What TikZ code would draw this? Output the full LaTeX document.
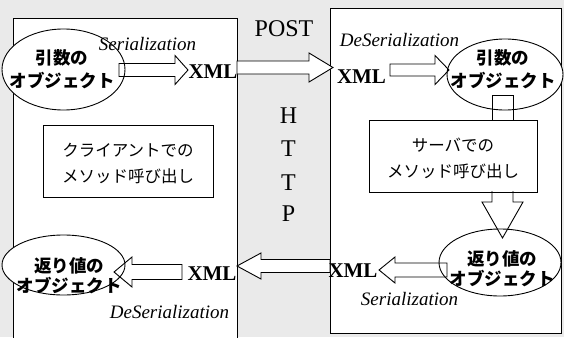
\documentclass[tikz,border=0pt]{standalone}
\usepackage{fontspec}
\setmainfont{Liberation Serif}
\newfontfamily\jpfont{Noto Sans CJK JP}
\usetikzlibrary{shapes.geometric}
\definecolor{bgcol}{RGB}{234,234,234}
\newcommand\myHarrow[7][]{%
  \draw[blockarrow,#1] (#2,#5-#6) -- (#3,#5-#6) -- (#3,#5-#7) -- (#4,#5)
    -- (#3,#5+#7) -- (#3,#5+#6) -- (#2,#5+#6) -- cycle;}
\begin{document}
\begin{tikzpicture}[x=1pt,y=-1pt,
  frame/.style={draw=black,line width=0.9pt,fill=white,inner sep=0pt},
  oval/.style={ellipse,draw=black,line width=0.9pt,fill=white,inner sep=0pt},
  blockarrow/.style={draw=black,line width=0.9pt,line join=miter},
  jpbold/.style={font=\jpfont\bfseries\fontsize{17.5}{23}\selectfont,align=center,inner sep=0pt},
  jpbold2/.style={font=\jpfont\bfseries\fontsize{17.5}{20}\selectfont,align=center,inner sep=0pt},
  jpreg/.style={font=\jpfont\fontsize{16.5}{26}\selectfont,align=center,inner sep=0pt},
  xmllabel/.style={font=\bfseries\fontsize{21}{24}\selectfont,anchor=base,inner sep=0pt},
  italabel/.style={font=\itshape\fontsize{19}{22}\selectfont,anchor=base,inner sep=0pt},
  httplabel/.style={font=\fontsize{24}{26}\selectfont,anchor=base,inner sep=0pt}]
\useasboundingbox (0,0) rectangle (564,337);
\fill[bgcol] (0,0) rectangle (564,337);
% main boxes
\node[frame,anchor=north west,minimum width=224pt,minimum height=340pt] (client) at (13,18) {};
\node[frame,anchor=north west,minimum width=231pt,minimum height=325pt] (server) at (330,8) {};
% method boxes
\node[frame,minimum width=170pt,minimum height=72pt] (cbox) at (128,161) {};
\node[frame,minimum width=168pt,minimum height=72pt] (sbox) at (453,156) {};
% ellipses
\node[oval,minimum width=123pt,minimum height=81pt] (argL) at (63.5,69.5) {};
\node[oval,minimum width=116pt,minimum height=71pt] (argR) at (505,74.5) {};
\node[oval,minimum width=122pt,minimum height=67pt] (retR) at (500,262.5) {};
\node[oval,minimum width=123pt,minimum height=60pt] (retL) at (63.5,265) {};
% block arrows
\myHarrow{119}{175}{188}{70}{6.5}{14.5}
\myHarrow[fill=white]{237}{309}{333}{67.5}{6.5}{14.5}
\myHarrow{390}{435}{449}{70}{6}{14.5}
\myHarrow{447}{395}{379}{270}{7}{13}
\myHarrow[fill=white]{330}{261}{237}{266}{6.5}{13}
\myHarrow{182}{132}{114}{272}{7.5}{15}
\draw[blockarrow] (492,95) rectangle (513,120);
\draw[blockarrow] (492,191) -- (492,202) -- (482,202) -- (502.5,238) -- (523,202) -- (513,202) -- (513,191);
% texts
\node[jpbold] (tArgL) at (62,69) {引数の\\オブジェクト};
\node[jpbold] (tArgR) at (503,69) {引数の\\オブジェクト};
\node[jpbold2] (tRetR) at (502,268.5) {返り値の\\オブジェクト};
\node[jpbold2] (tRetL) at (69,275.5) {返り値の\\オブジェクト};
\node[jpreg] (tC) at (128,164) {クライアントでの\\メソッド呼び出し};
\node[jpreg] (tS) at (453,158.5) {サーバでの\\メソッド呼び出し};
\node[xmllabel] (x1) at (213,78) {XML};
\node[xmllabel] (x2) at (361.5,83) {XML};
\node[xmllabel] (x3) at (212,280) {XML};
\node[xmllabel] (x4) at (353,277) {XML};
\node[italabel] (s1) at (147.5,51) {Serialization};
\node[italabel] (s2) at (399.5,47) {DeSerialization};
\node[italabel] (s3) at (169.5,318) {DeSerialization};
\node[italabel] (s4) at (409.5,305) {Serialization};
\node[httplabel] (post) at (284,37) {POST};
\node[httplabel] (h1) at (288.5,123) {H};
\node[httplabel] (h2) at (288.5,156.5) {T};
\node[httplabel] (h3) at (288.5,190) {T};
\node[httplabel] (h4) at (288.5,221) {P};
\end{tikzpicture}
\end{document}
